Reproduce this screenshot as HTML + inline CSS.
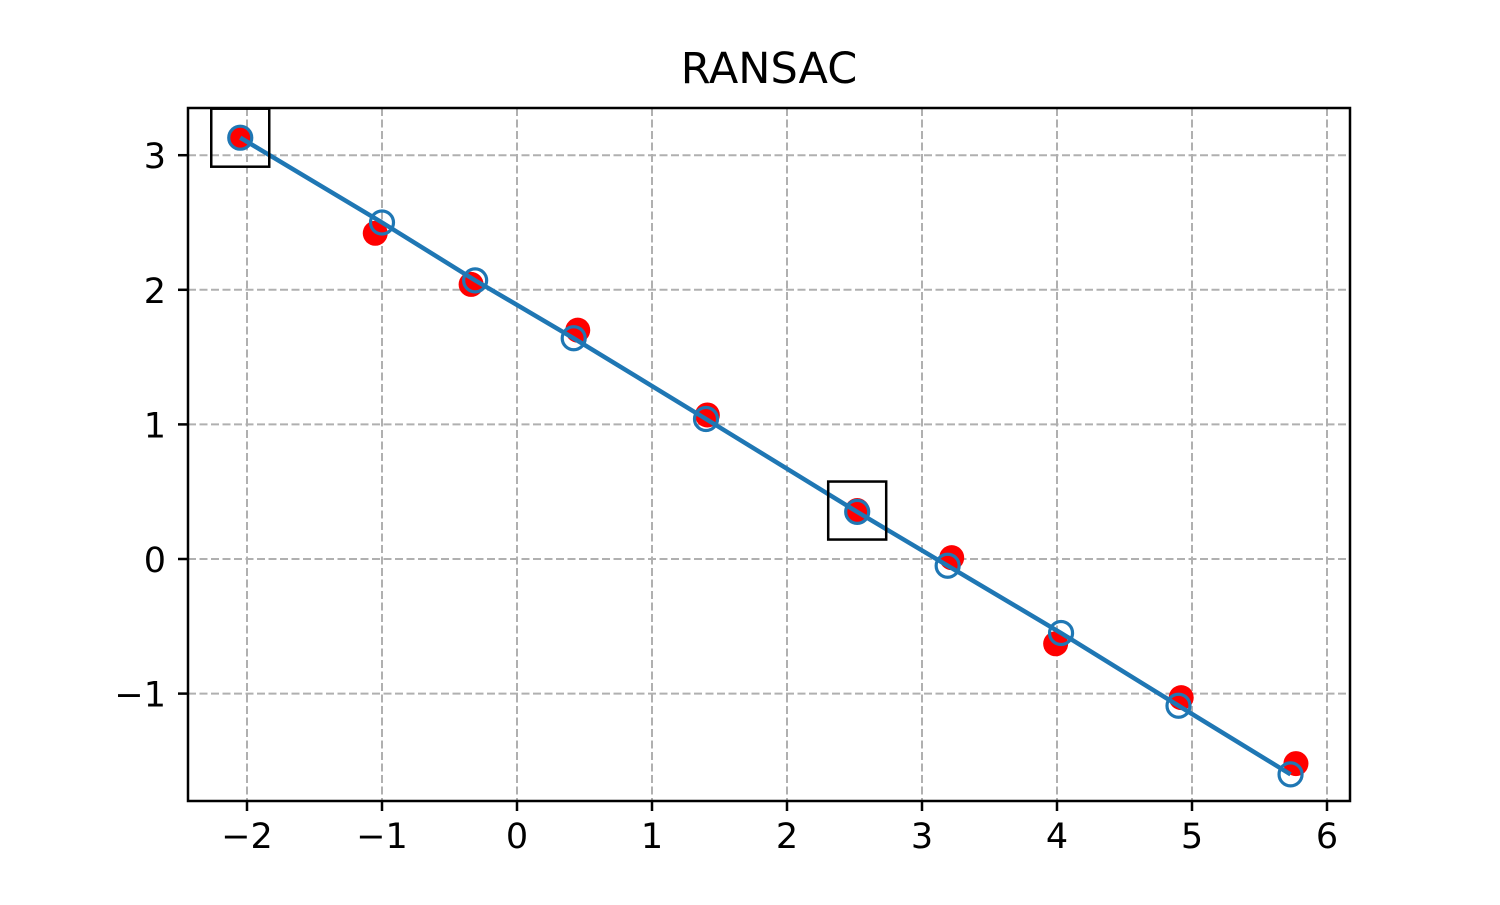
<!DOCTYPE html>
<html><head><meta charset="utf-8"><style>
html,body{margin:0;padding:0;background:#fff;}
svg text{font-family:"DejaVu Sans","Liberation Sans",sans-serif;}
</style></head><body>
<svg id="chart" width="1500" height="900" xmlns="http://www.w3.org/2000/svg"></svg>
<script>
const xTicks=[-2,-1,0,1,2,3,4,5,6];
const yTicks=[-1,0,1,2,3];
const dataX=[-2.05,-1.05,-0.34,0.45,1.41,2.52,3.22,3.99,4.92,5.77];
const dataY=[3.13,2.42,2.04,1.70,1.07,0.36,0.01,-0.63,-1.03,-1.52];
const fitX=[-2.05,-1.0,-0.31,0.42,1.40,2.52,3.19,4.03,4.90,5.73];
const fitY=[3.13,2.50,2.07,1.64,1.04,0.35,-0.05,-0.55,-1.09,-1.60];
const sampleX=[-2.05,2.52];
const sampleY=[3.13,0.36];
const NS="http://www.w3.org/2000/svg";
const svg=document.getElementById('chart');
const L=188,R=1350,T=108,B=801;
const sx=v=>517+135*v;
const sy=v=>559-134.6*v;
function mk(tag,attrs,parent){const e=document.createElementNS(NS,tag);for(const k in attrs)e.setAttribute(k,attrs[k]);(parent||svg).appendChild(e);return e;}
const title=mk('text',{x:769,y:83,'font-size':43,'text-anchor':'middle'});


title.textContent='RANSAC';
const grid=mk('g',{});


xTicks.forEach(t=>{
 const x=sx(t);
 const g=mk('line',{x1:x,x2:x,y1:T,y2:B,stroke:'#b0b0b0','stroke-width':2,'stroke-dasharray':'8,3.5'},grid);
 
 
 const tk=mk('line',{x1:x,x2:x,y1:B,y2:B+10,stroke:'#000','stroke-width':2.5});
 
 
 const lb=mk('text',{x:x,y:B+47,'font-size':35,'text-anchor':'middle'});
 
 
 lb.textContent=t<0?'\u2212'+(-t):String(t);
});
yTicks.forEach(t=>{
 const y=sy(t);
 const g=mk('line',{x1:L,x2:R,y1:y,y2:y,stroke:'#b0b0b0','stroke-width':2,'stroke-dasharray':'8,3.5'},grid);
 
 
 const tk=mk('line',{x1:L-10,x2:L,y1:y,y2:y,stroke:'#000','stroke-width':2.5});
 
 
 const lb=mk('text',{x:L-22,y:y+13,'font-size':35,'text-anchor':'end'});
 
 
 lb.textContent=t<0?'\u2212'+(-t):String(t);
});
dataX.forEach((v,i)=>{
 const c=mk('circle',{cx:sx(v),cy:sy(dataY[i]),r:12.5,fill:'#ff0000'});
 
 
});
const pts=fitX.map((v,i)=>sx(v)+','+sy(fitY[i])).join(' ');
const line=mk('polyline',{points:pts,fill:'none',stroke:'#1f77b4','stroke-width':4.5});


fitX.forEach((v,i)=>{
 const c=mk('circle',{cx:sx(v),cy:sy(fitY[i]),r:11.5,fill:'none',stroke:'#1f77b4','stroke-width':3.2});
 
 
});
sampleX.forEach((v,i)=>{
 const r=mk('rect',{x:sx(v)-29,y:sy(sampleY[i])-29,width:58,height:58,fill:'none',stroke:'#000','stroke-width':2.5});
 
 
});
const frame=mk('rect',{x:L,y:T,width:R-L,height:B-T,fill:'none',stroke:'#000','stroke-width':2.5});


</script>
</body></html>
